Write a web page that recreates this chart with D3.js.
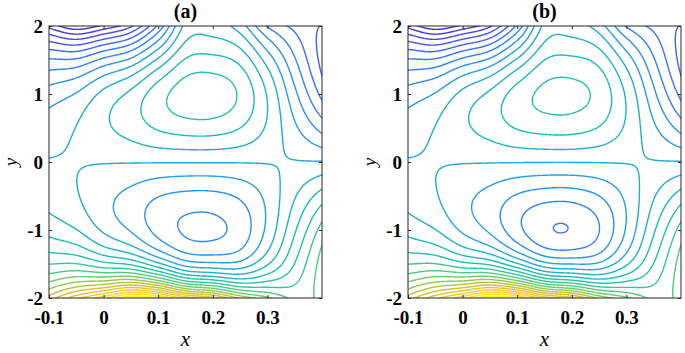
<!DOCTYPE html>
<html>
<head>
<meta charset="utf-8">
<script src="https://cdn.jsdelivr.net/npm/d3@7"></script>
<style>
  body { margin: 0; background: #fff; }
  svg text { font-family: "Liberation Serif", "Times New Roman", Times, serif; }
</style>
</head>
<body>
<script>
// field H(x,y) = P(x) y + Q(x) y^3 + S(x) y^5 + R(x) (|y|-1)^3 (for |y|>1), profiles given at x knots
const knotX  = [-0.1, -0.05, 0, 0.05, 0.1, 0.15, 0.2, 0.25, 0.3, 0.35, 0.4];
const pKnots = [-0.87, 0.25, 1.9, 3.2, 4.6, 5.2, 5.2, 4.2, 1.8, -1.7, -5.0];
const qKnots = [-0.71, -1.2, -1.65, -2.0, -2.1, -1.85, -1.78, -1.45, -0.95, -0.1, 0.65];
const sKnots = [-0.031, -0.035, -0.04, -0.045, -0.045, -0.04, -0.035, -0.03, -0.02, -0.01, -0.01];
const rKnots = [0, 0.4, 1.9, 3.8, 5.2, 5.9, 5.4, 3.6, 1.5, 0.2, 0];

// the two panels differ near the two centres
const panelNames = ["(a)", "(b)"];
const upperShift = [0.15, -0.15];
const lowerShift = [0.15, -0.64];
const centre = [0.18, 0.98];

const levels = [-9.05, -8.05, -7.05, -6.05, -5.05, -4.05, -3.05, -2.05, -1.05, -0.05,
                0.95, 1.95, 2.95, 3.95, 4.95, 5.95, 6.95, 7.95, 8.95, 9.95,
                10.95, 11.95, 12.95, 13.95, 14.95];

const xTicks = [-0.1, 0, 0.1, 0.2, 0.3];
const yTicks = [-2, -1, 0, 1, 2];

const parula = ["#3e26a8", "#484cf0", "#327bfc", "#20a5e3", "#19bfb6",
                "#64cd6f", "#d1bf27", "#fccf30", "#f9fb15"];

const W = 685, H = 353;
const panelLeft = [49, 408];
const plotW = 273, plotTop = 26, plotBottom = 298;
const serif = "'Liberation Serif', 'Times New Roman', Times, serif";

// Catmull-Rom through the knots
function profile(vals) {
  const n = vals.length - 1, a = knotX[0], b = knotX[n];
  return x => {
    const t = (x - a) / (b - a) * n;
    const i = Math.max(0, Math.min(n - 1, Math.floor(t)));
    const u = t - i;
    const p1 = vals[i], p2 = vals[i + 1];
    const p0 = i > 0 ? vals[i - 1] : 2 * p1 - p2;
    const p3 = i < n - 1 ? vals[i + 2] : 2 * p2 - p1;
    return 0.5 * (2 * p1 + (p2 - p0) * u + (2 * p0 - 5 * p1 + 4 * p2 - p3) * u * u
                  + (3 * p1 - p0 - 3 * p2 + p3) * u * u * u);
  };
}
const P = profile(pKnots), Q = profile(qKnots), S = profile(sKnots), R = profile(rKnots);

function field(x, y, p) {
  const y2 = y * y;
  const e = Math.max(0, Math.abs(y) - 1);
  let h = P(x) * y + Q(x) * y * y2 + S(x) * y * y2 * y2 + R(x) * e * e * e;
  const gx = Math.pow((x - centre[0]) / 0.09, 2);
  h += upperShift[p] * Math.exp(-gx - Math.pow((y - centre[1]) / 0.5, 2));
  h += lowerShift[p] * Math.exp(-gx - Math.pow((y + centre[1]) / 0.5, 2));
  return h;
}

const svg = d3.select("body").append("svg")
    .attr("width", W)
    .attr("height", H)
    .attr("font-family", serif);

panelNames.forEach((name, p) => {
  const left = panelLeft[p];
  const x = d3.scaleLinear().domain([-0.1, 0.4]).range([left, left + plotW]);
  const y = d3.scaleLinear().domain([-2, 2]).range([plotBottom, plotTop]);

  // sample the field on a grid a little wider than the axes
  const nx = 320, ny = 320, pad = 2;
  const dx = 0.5 / (nx - 1 - 2 * pad), dy = 4 / (ny - 1 - 2 * pad);
  const values = new Float64Array(nx * ny);
  let zmin = Infinity, zmax = -Infinity;
  for (let j = 0; j < ny; j++) {
    for (let i = 0; i < nx; i++) {
      const v = field(-0.1 + (i - pad) * dx, 2 - (j - pad) * dy, p);
      values[j * nx + i] = v;
      if (i >= pad && i < nx - pad && j >= pad && j < ny - pad) {
        if (v < zmin) zmin = v;
        if (v > zmax) zmax = v;
      }
    }
  }

  const color = d3.scaleLinear()
      .domain(parula.map((c, k) => zmin + (zmax - zmin) * k / (parula.length - 1)))
      .range(parula);

  const proj = d3.geoTransform({
    point: function(cx, cy) {
      this.stream.point(x(-0.1 + (cx - 0.5 - pad) * dx), y(2 - (cy - 0.5 - pad) * dy));
    }
  });
  const path = d3.geoPath(proj);

  const contours = d3.contours()
      .size([nx, ny])
      .thresholds(levels)(values);

  svg.append("clipPath")
      .attr("id", "clip" + p)
    .append("rect")
      .attr("x", left)
      .attr("y", plotTop)
      .attr("width", plotW)
      .attr("height", plotBottom - plotTop);

  svg.append("g")
      .attr("clip-path", "url(#clip" + p + ")")
    .selectAll("path")
    .data(contours)
    .join("path")
      .attr("d", path)
      .attr("fill", "none")
      .attr("stroke", d => color(d.value))
      .attr("stroke-width", 1.4)
      .attr("stroke-linejoin", "round");

  // axes, ticks inward on all four sides
  const axisColor = "#262626";
  const fmt = d => String(d);
  const gB = svg.append("g")
      .attr("transform", "translate(0," + plotBottom + ")")
      .call(d3.axisBottom(x).tickValues(xTicks).tickFormat(fmt).tickSizeInner(-3).tickSizeOuter(0).tickPadding(13));
  const gT = svg.append("g")
      .attr("transform", "translate(0," + plotTop + ")")
      .call(d3.axisTop(x).tickValues(xTicks).tickFormat("").tickSizeInner(-3).tickSizeOuter(0));
  const gL = svg.append("g")
      .attr("transform", "translate(" + left + ",0)")
      .call(d3.axisLeft(y).tickValues(yTicks).tickFormat(fmt).tickSizeInner(-3).tickSizeOuter(0).tickPadding(6));
  const gR = svg.append("g")
      .attr("transform", "translate(" + (left + plotW) + ",0)")
      .call(d3.axisRight(y).tickValues(yTicks).tickFormat("").tickSizeInner(-3).tickSizeOuter(0));

  [gB, gT, gL, gR].forEach(g => {
    g.attr("font-family", serif).attr("font-size", 19);
    g.select(".domain").remove();
    g.selectAll("line").attr("stroke", axisColor);
    g.selectAll("text")
        .attr("fill", "#000")
        .attr("font-family", serif)
        .attr("font-weight", "bold");
  });

  svg.append("rect")
      .attr("x", left)
      .attr("y", plotTop)
      .attr("width", plotW)
      .attr("height", plotBottom - plotTop)
      .attr("fill", "none")
      .attr("stroke", axisColor)
      .attr("stroke-width", 1);

  svg.append("text")
      .attr("x", left + plotW / 2)
      .attr("y", 18)
      .attr("text-anchor", "middle")
      .attr("font-family", serif)
      .attr("font-size", 20)
      .attr("font-weight", "bold")
      .text(name);

  svg.append("text")
      .attr("x", left + plotW / 2)
      .attr("y", 346)
      .attr("text-anchor", "middle")
      .attr("font-family", serif)
      .attr("font-size", 21)
      .attr("font-style", "italic")
      .text("x");

  svg.append("text")
      .attr("transform", "translate(" + (left - 32) + "," + ((plotTop + plotBottom) / 2) + ") rotate(-90)")
      .attr("text-anchor", "middle")
      .attr("font-family", serif)
      .attr("font-size", 19)
      .attr("font-style", "italic")
      .text("y");
});
</script>
</body>
</html>
